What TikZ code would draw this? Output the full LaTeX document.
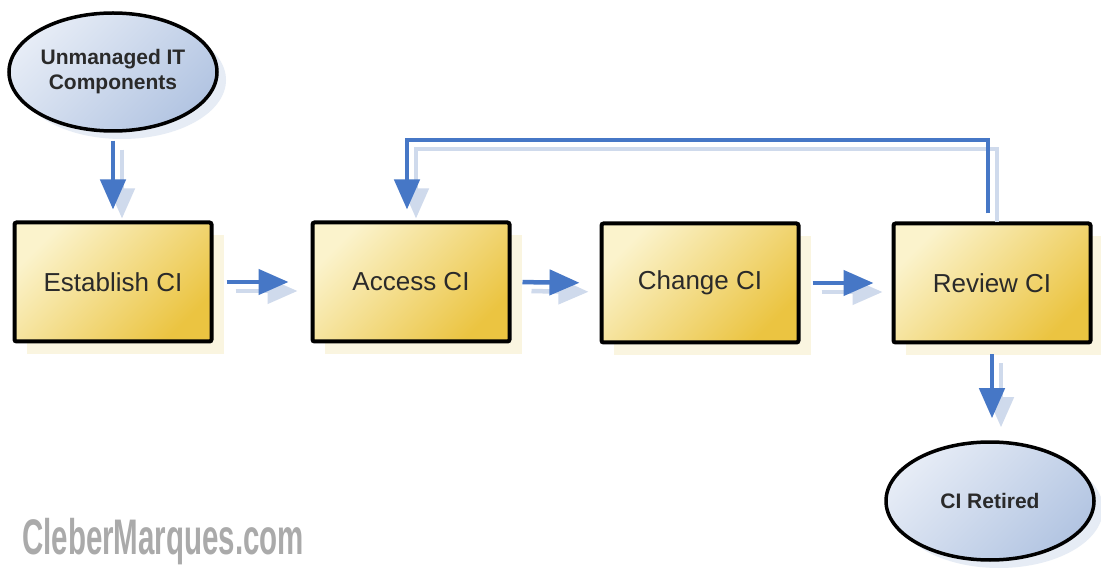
\documentclass[tikz,border=0pt]{standalone}
\usepackage{fontspec}
\setmainfont{Liberation Sans}
\usetikzlibrary{arrows.meta,shapes.geometric}

\definecolor{boxlight}{HTML}{FBF3CC}
\definecolor{boxdark}{HTML}{EBC441}
\definecolor{boxshadow}{HTML}{FAF5E0}
\definecolor{elllight}{HTML}{E6ECF6}
\definecolor{elldark}{HTML}{B3C5E2}
\definecolor{ellshadow}{HTML}{E6ECF5}
\definecolor{flow}{HTML}{4677C6}
\definecolor{flowshadow}{HTML}{CFDAEC}
\definecolor{labeltext}{HTML}{2A2A2A}
\definecolor{mark}{HTML}{AAAAAA}

\tikzset{
  stepbox/.style={rectangle, minimum width=197pt, minimum height=119pt,
    draw=black, line width=4pt, rounded corners=2pt,
    top color=boxlight, bottom color=boxdark, shading angle=45,
    text=labeltext, font=\fontsize{26}{30}\selectfont},
  boxshade/.style={rectangle, minimum width=197pt, minimum height=119pt,
    fill=boxshadow},
  terminal/.style={ellipse, minimum width=208pt, minimum height=118pt,
    draw=black, line width=3.5pt, inner sep=0pt,
    top color=elllight, bottom color=elldark, shading angle=45,
    text=labeltext, align=center,
    font=\bfseries\fontsize{21}{25}\selectfont},
  termshade/.style={ellipse, minimum width=208pt, minimum height=118pt,
    fill=ellshadow},
  flowarrow/.style={draw=flow, line width=4.5pt,
    -{Triangle[length=30pt,width=25pt]}},
  flowghost/.style={draw=flowshadow, line width=4.5pt,
    -{Triangle[length=30pt,width=25pt]},
    transform canvas={shift={(9pt,-9pt)}}},
}

\begin{document}
\begin{tikzpicture}[x=1pt,y=-1pt]
  \useasboundingbox[fill=white] (0,0) rectangle (1101,569);

  % soft drop shadows behind the shapes
  \node[termshade] at (122,80) {};
  \node[termshade] at (999,509) {};
  \node[boxshade] at (125,295) {};
  \node[boxshade] at (423,295) {};
  \node[boxshade] at (712,296) {};
  \node[boxshade] at (1004,296) {};

  % process steps
  \node[terminal] (unm) at (113,72) {Unmanaged IT\\Components};
  \node[stepbox] (est) at (113,282) {Establish CI};
  \node[stepbox] (acc) at (411,282) {Access CI};
  \node[stepbox] (chg) at (700,283) {Change CI};
  \node[stepbox] (rev) at (992,283) {Review CI};
  \node[terminal] (ret) at (990,501) {CI Retired};

  \coordinate (looptop) at (700,140);

  % pale echoes of the connectors
  \draw[flowghost, shorten <=8pt, shorten >=11pt] (unm.south) -- (unm.south |- est.north);
  \draw[flowghost, shorten <=13pt, shorten >=22pt] (est.east) -- (acc.west);
  \draw[flowghost, shorten <=11pt, shorten >=20pt] (acc.east) -- (chg.west);
  \draw[flowghost, shorten <=12pt, shorten >=18pt] (chg.east) -- (rev.west);
  \draw[flowghost, shorten <=8pt, shorten >=11pt] ([xshift=-4pt]rev.north) |- (looptop) -| ([xshift=-4pt]acc.north);
  \draw[flowghost, shorten <=10pt, shorten >=22pt] (rev.south) -- (rev.south |- ret.north);

  % connectors
  \draw[flowarrow, shorten <=8pt, shorten >=11pt] (unm.south) -- (unm.south |- est.north);
  \draw[flowarrow, shorten <=13pt, shorten >=22pt] (est.east) -- (acc.west);
  \draw[flowarrow, shorten <=11pt, shorten >=20pt] (acc.east) -- (chg.west);
  \draw[flowarrow, shorten <=12pt, shorten >=18pt] (chg.east) -- (rev.west);
  \draw[flowarrow, shorten <=8pt, shorten >=11pt] ([xshift=-4pt]rev.north) |- (looptop) -| ([xshift=-4pt]acc.north);
  \draw[flowarrow, shorten <=10pt, shorten >=22pt] (rev.south) -- (rev.south |- ret.north);

  % site mark
  \node[anchor=south west, inner sep=0pt, text=mark, xscale=0.59,
        font=\bfseries\fontsize{50}{50}\selectfont] (site) at (22,565) {CleberMarques.com};
\end{tikzpicture}
\end{document}
